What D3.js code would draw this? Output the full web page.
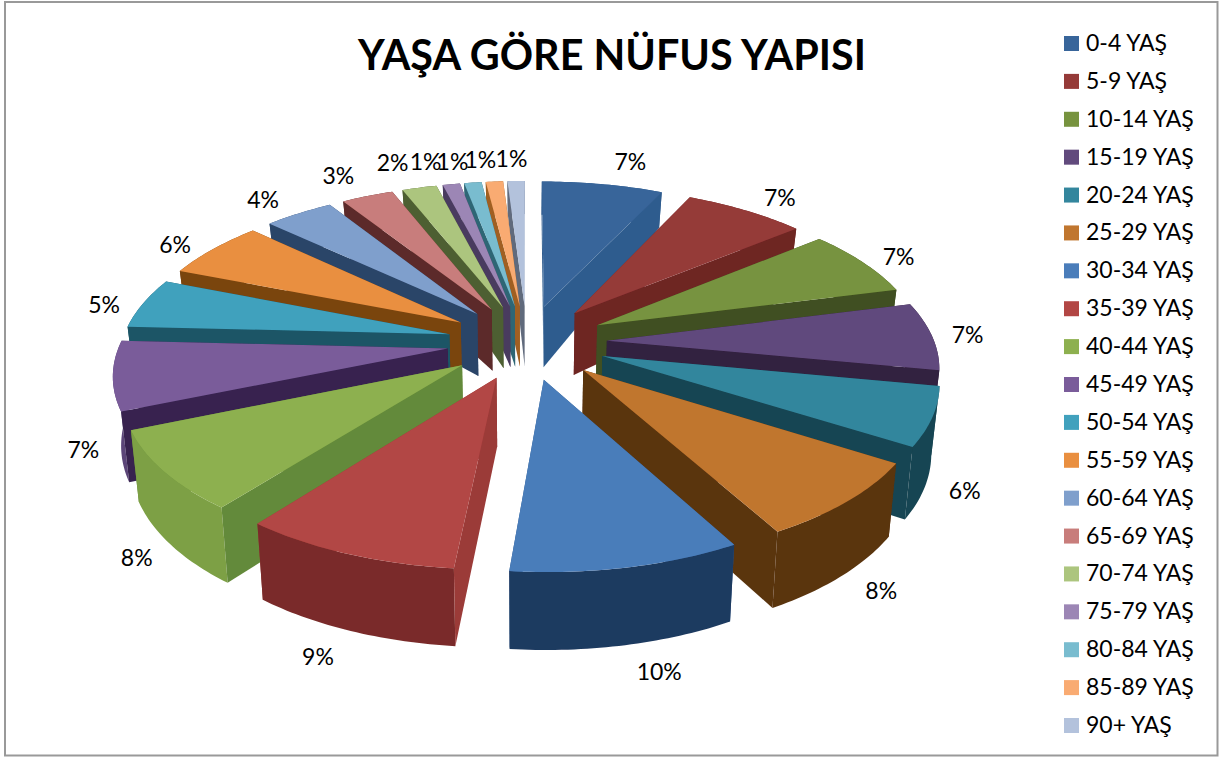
<!DOCTYPE html>
<html><head><meta charset="utf-8">
<script src="https://cdn.jsdelivr.net/npm/d3@7"></script>
<style>html,body{margin:0;padding:0;background:#fff}svg{display:block}text{font-family:Lato,"Open Sans",sans-serif;fill:#000}</style>
</head><body><svg id="c" width="1219" height="757"></svg>
<script>
const categories=["0-4 YAŞ","5-9 YAŞ","10-14 YAŞ","15-19 YAŞ","20-24 YAŞ","25-29 YAŞ","30-34 YAŞ","35-39 YAŞ","40-44 YAŞ","45-49 YAŞ","50-54 YAŞ","55-59 YAŞ","60-64 YAŞ","65-69 YAŞ","70-74 YAŞ","75-79 YAŞ","80-84 YAŞ","85-89 YAŞ","90+ YAŞ"];
const values=[7.0,7.0,7.0,7.0,6.0,8.0,9.5,9.0,8.2,7.1,5.2,6.0,4.0,3.0,2.0,1.0,1.0,1.0,1.0];
const title="YAŞA GÖRE NÜFUS YAPISI";
const topColors=["#38659a","#953a38","#77933f","#614a7d","#33869d","#c0762f","#4a7dba","#b24644","#8db04f","#7a5c9a","#41a1bd","#e98f40","#7f9fcc","#c87d7b","#acc57e","#9c86b5","#79bccf","#f9ab72","#b3c2dc"];
const radialColors=["#2f5c8e","#6e2524","#3f4f20","#32203f","#174552","#5a3410","#2f5c8e","#9b3a38","#648a3a","#37234f","#1b5566","#7a4510","#2b4468","#5c2a29","#4e5f30","#4a3a5e","#2f6675","#a05f20","#606a7c"];
const outerColors=["#2f5c8e","#6e2524","#3f4f20","#32203f","#174552","#5a3410","#1f3a60","#7a2c2a","#7da045","#5b4478","#1b5566","#7a4510","#2b4468","#5c2a29","#4e5f30","#4a3a5e","#2f6675","#a05f20","#606a7c"];
const labelNudges=[[23,-12],[20,-4],[13,0],[6,-1],[0,42],[6,21],[23,7],[-13,12],[3,31],[2,60],[-12,5],[-17,2],[-21,-5],[-19,-11],[-20,-15],[-21,-12],[-17,-11],[-12,-12],[-4,-12]];

const W=1219,H=757,cx=527,cy=342,R=327.5,E=80,T=0.466,P=0.179/408;
const svg=d3.select("#c");
svg.append("defs").append("filter").attr("id","soft").append("feGaussianBlur").attr("stdDeviation",0.6);
svg.append("rect").attr("x",5).attr("y",2).attr("width",1212.5).attr("height",753.5).attr("fill","#fff").attr("stroke","#999").attr("stroke-width",2);

const pieGen=d3.pie().sort(null).value(d=>d);
const arcs=pieGen(values);
const heightScale=d3.scaleLinear().domain([-408,0,408]).range([33,67,78]);
function proj(u,v){const s=1/(1-P*v);return {x:cx+u*s,y:cy+T*v*s,h:heightScale(v)};}
function point(mid,a,r){
  return proj(E*Math.sin(mid)+r*Math.sin(a),-(E*Math.cos(mid))-r*Math.cos(a));
}
const bottom=p=>({x:cx+(p.x-cx)*0.98,y:p.y+p.h});
const line=d3.line().x(d=>d.x).y(d=>d.y);
const area2=pts=>line(pts)+"Z";
const signed=pts=>d3.polygonArea(pts.map(p=>[p.x,p.y]));

const slices=arcs.map((d,i)=>({i,d,mid:(d.startAngle+d.endAngle)/2}));
slices.sort((a,b)=>Math.cos(b.mid)-Math.cos(a.mid));
const g=svg.append("g").attr("filter","url(#soft)");
slices.forEach(s=>{
  const {d,mid,i}=s;
  const n=Math.max(6,Math.ceil((d.endAngle-d.startAngle)*60));
  const rim=d3.range(n+1).map(k=>point(mid,d.startAngle+(d.endAngle-d.startAngle)*k/n,R));
  const apex=point(mid,0,0);
  const wall=(p,q)=>[p,q,bottom(q),bottom(p)];
  const w1=wall(apex,rim[0]), w2=wall(rim[n],apex);
  const outer=[...rim,...rim.slice().reverse().map(bottom)];
  const faces=[w1,w2];
  const slice=g.append("g");
  const facing=f=>signed(f)>0;
  faces.filter(f=>!facing(f)).forEach(f=>slice.append("path").attr("d",area2(f)).attr("fill",radialColors[i]));
  slice.append("path").attr("d",area2(outer)).attr("fill",outerColors[i]);
  faces.filter(facing).forEach(f=>slice.append("path").attr("d",area2(f)).attr("fill",radialColors[i]));
  slice.append("path").attr("d",area2([apex,...rim])).attr("fill",topColors[i]);
});

arcs.forEach((d,i)=>{
  const mid=(d.startAngle+d.endAngle)/2;
  const p=point(mid,mid,R+30);
  const front=Math.max(0,-Math.cos(mid));
  svg.append("text").attr("x",p.x+labelNudges[i][0]).attr("y",p.y+front*p.h+8+labelNudges[i][1]).attr("text-anchor","middle").attr("font-size",23).text(Math.round(values[i])+"%");
});

svg.append("text").attr("x",612).attr("y",70).attr("text-anchor","middle").attr("font-size",41.3).attr("font-weight",700).text(title);

const ly=d3.scalePoint().domain(categories).range([43.5,725.5]);
const leg=svg.append("g").selectAll("g").data(categories).join("g").attr("transform",d=>`translate(1064,${ly(d)})`);
leg.append("rect").attr("y",-7.5).attr("width",15).attr("height",15).attr("fill",(d,i)=>topColors[i]);
leg.append("text").attr("x",22).attr("y",7.5).attr("font-size",23).text(d=>d);
</script></body></html>
